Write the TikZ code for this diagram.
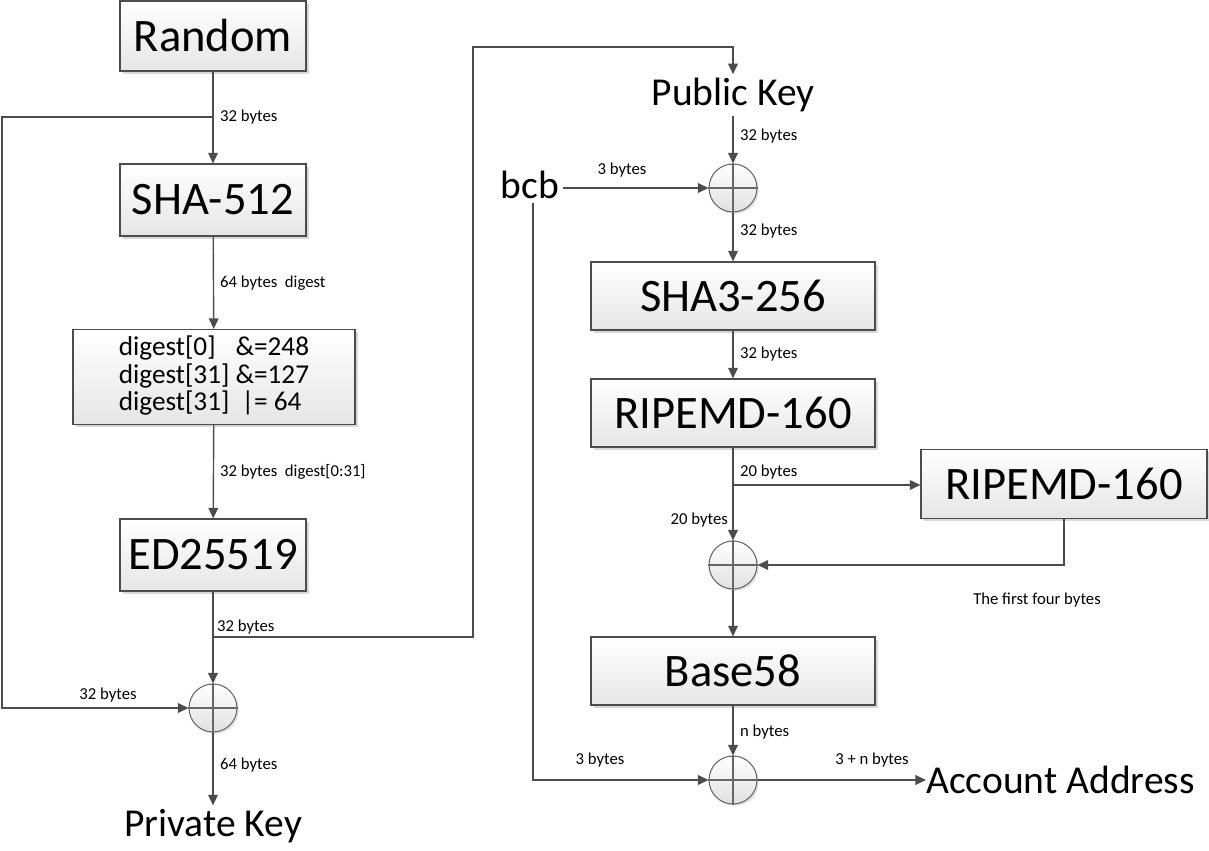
\documentclass[tikz,border=0pt]{standalone}
\usepackage{fontspec}
\setmainfont{Carlito}
\usetikzlibrary{arrows.meta}
\usetikzlibrary{shadows}

\tikzset{
    box/.style={draw=black!70, line width=0.7pt, top color=white, bottom color=black!10,
        drop shadow={shadow xshift=1.5pt, shadow yshift=-1.5pt, fill=black!30, opacity=0.5},
        inner sep=0pt, font=\fontsize{26.5}{30}\selectfont},
    xorc/.style={circle, draw=black!60, line width=0.6pt, minimum size=0.96cm, inner sep=0pt,
        top color=white, bottom color=black!12,
        drop shadow={shadow xshift=1pt, shadow yshift=-1pt, fill=black!30, opacity=0.4}},
    arr/.style={draw=black!70, line width=0.8pt, -{Triangle[length=6pt,width=5.5pt]}},
    lbl/.style={font=\fontsize{9.5}{11}\selectfont, inner sep=1pt},
    keytext/.style={font=\fontsize{22.5}{26}\selectfont, inner sep=2pt}
}

\begin{document}
\begin{tikzpicture}[x=0.02cm, y=-0.02cm]
    \useasboundingbox (0,0) rectangle (1209,851);

    % left column
    \node[box, minimum width=3.72cm, minimum height=1.40cm] (random) at (213,36) {Random};
    \node[box, minimum width=3.72cm, minimum height=1.44cm] (sha) at (213,200) {SHA-512};
    \node[box, minimum width=5.64cm, minimum height=1.9cm] (dig) at (214,377)
        {\fontsize{15.5}{14.3}\selectfont\begin{tabular}{@{}l@{\ }l@{}}
            digest[0] & \&=248\\
            digest[31] & \&=127\\
            digest[31] & \phantom{\&}\llap{|}= 64
        \end{tabular}};
    \node[box, minimum width=3.72cm, minimum height=1.44cm] (ed) at (213,555) {ED25519};
    \node[xorc] (xor1) at (213,708) {};
    \node[keytext] (priv) at (213,826) {Private Key};

    % right column
    \node[keytext] (pub) at (733,95) {Public Key};
    \node[keytext] (bcb) at (530,185) {bcb};
    \node[xorc] (xor2) at (733,188) {};
    \node[box, minimum width=5.68cm, minimum height=1.36cm] (sha3) at (733,296) {SHA3-256};
    \node[box, minimum width=5.68cm, minimum height=1.36cm] (rip1) at (733,413) {RIPEMD-160};
    \node[box, minimum width=5.72cm, minimum height=1.38cm] (rip2) at (1064,484) {RIPEMD-160};
    \node[xorc] (xor3) at (733,565) {};
    \node[box, minimum width=5.68cm, minimum height=1.36cm] (b58) at (733,671) {Base58};
    \node[xorc] (xor4) at (733,780) {};
    \node[keytext, anchor=west, inner sep=0pt] (acc) at (926,780) {Account Address};

    % crosses in the circles
    \foreach \c in {xor1,xor2,xor3,xor4}
        \draw[black!60, line width=0.6pt] (\c.north) -- (\c.south) (\c.west) -- (\c.east);

    \coordinate (split1) at (213,117);
    \coordinate (split2) at (213,637);
    \coordinate (split3) at (733,485);

    % connectors, left
    \draw[arr] (random) -- (sha);
    \draw[arr] (split1) -- (2,117) |- (xor1);
    \draw[arr] (sha) -- (dig);
    \draw[arr] (dig) -- (ed);
    \draw[arr] (ed) -- (xor1);
    \draw[arr] (split2) -- (473,637) -- (473,47) -| (pub);
    \draw[arr] (xor1) -- (priv);

    % connectors, right
    \draw[arr] (pub) -- (xor2);
    \draw[arr] (bcb.east |- xor2) -- (xor2);
    \draw[arr] (xor2) -- (sha3);
    \draw[arr] (sha3) -- (rip1);
    \draw[arr] (rip1) -- (xor3);
    \draw[arr] (split3) -- (rip2.west |- split3);
    \draw[arr] (rip2) |- (xor3);
    \draw[arr] (xor3) -- (b58);
    \draw[arr] (b58) -- (xor4);
    \draw[arr] ([xshift=0.06cm]bcb.south) |- (xor4);
    \draw[arr] (xor4) -- (acc);

    % labels
    \node[lbl, anchor=west] (t1) at (218,117) {32 bytes};
    \node[lbl, anchor=west] (t2) at (218,283) {64 bytes\ \ digest};
    \node[lbl, anchor=west] (t3) at (218,472) {32 bytes\ \ digest[0:31]};
    \node[lbl, anchor=west] (t4) at (215,627) {32 bytes};
    \node[lbl] (t5) at (108,695) {32 bytes};
    \node[lbl, anchor=west] (t6) at (218,765) {64 bytes};
    \node[lbl, anchor=west] (t7) at (738,136) {32 bytes};
    \node[lbl] (t8) at (622,170) {3 bytes};
    \node[lbl, anchor=west] (t9) at (738,231) {32 bytes};
    \node[lbl, anchor=west] (t10) at (738,354) {32 bytes};
    \node[lbl, anchor=west] (t11) at (738,472) {20 bytes};
    \node[lbl, anchor=east] (t12) at (730,520) {20 bytes};
    \node[lbl] (t13) at (1037,600) {The first four bytes};
    \node[lbl, anchor=west] (t14) at (738,732) {n bytes};
    \node[lbl] (t15) at (600,760) {3 bytes};
    \node[lbl] (t16) at (872,760) {3 + n bytes};
\end{tikzpicture}
\end{document}
